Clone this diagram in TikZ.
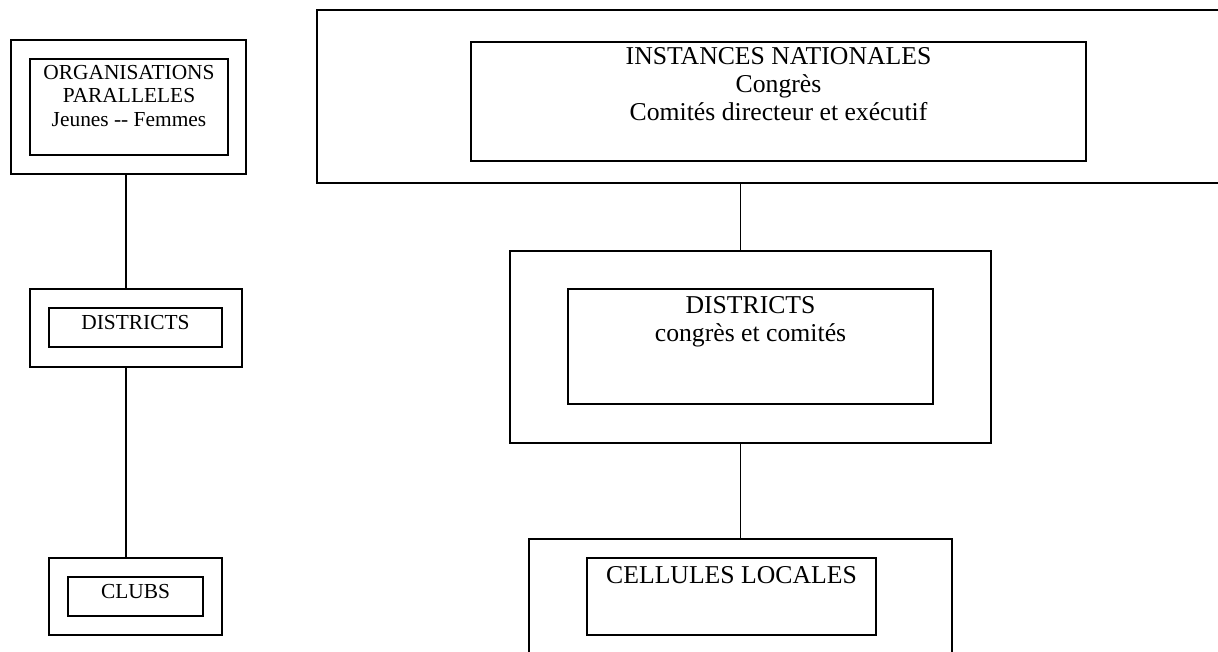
\documentclass[tikz,border=0pt]{standalone}
\usepackage{fontspec}
\setmainfont{Liberation Serif}

\begin{document}
\begin{tikzpicture}[x=1pt,y=-1pt,
  box/.style={draw=black,line width=1.5pt,rectangle,inner sep=0pt,outer sep=0pt},
  petit/.style={font=\fontsize{21.4}{23.5}\selectfont,align=center,anchor=north,inner sep=0pt},
  grand/.style={font=\fontsize{25.7}{28}\selectfont,align=center,anchor=north,inner sep=0pt}]
\useasboundingbox (0,0) rectangle (1218,651);
\clip (0,0) rectangle (1218,651);
\coordinate (axe) at (126,0);
\node[box,minimum width=235,minimum height=134] (orgout) at (128.5,107) {};
\node[box,minimum width=198,minimum height=96] (orgin) at (129,107) {};
\node[petit] (orgtxt) at (129,65) {ORGANISATIONS\\PARALLELES\\Jeunes -{}- Femmes};
\node[box,minimum width=212,minimum height=78] (distlout) at (136,328) {};
\node[box,minimum width=173,minimum height=39] (distlin) at (135.5,327.5) {};
\node[petit] (distltxt) at (135.5,314.8) {DISTRICTS};
\node[box,minimum width=173,minimum height=77] (clubout) at (135.5,596.5) {};
\node[box,minimum width=135,minimum height=39] (clubin) at (135.5,596.5) {};
\node[petit] (clubtxt) at (135.5,583.8) {CLUBS};
\draw[line width=1.5pt] (orgout.south -| axe) -- (distlout.north -| axe);
\draw[line width=1.5pt] (distlout.south -| axe) -- (clubout.north -| axe);
\node[box,minimum width=923,minimum height=173] (instout) at (778.5,96.5) {};
\node[box,minimum width=615,minimum height=119] (instin) at (778.5,101.5) {};
\node[grand] (insttxt) at (778.5,47) {INSTANCES NATIONALES\\Congrès\\Comités directeur et exécutif};
\node[box,minimum width=481,minimum height=192] (distrout) at (750.5,347) {};
\node[box,minimum width=365,minimum height=115] (distrin) at (750.5,346.5) {};
\node[grand] (distrtxt) at (750.5,296) {DISTRICTS\\congrès et comités};
\node[box,minimum width=423,minimum height=161] (cellout) at (740.5,619.5) {};
\node[box,minimum width=289,minimum height=77] (cellin) at (731.5,596.5) {};
\node[grand] (celltxt) at (731.5,566) {CELLULES LOCALES};
\draw[line width=1.5pt] (instout.south -| cellout.north) -- (distrout.north -| cellout.north);
\draw[line width=1.5pt] (distrout.south -| cellout.north) -- (cellout.north);
\end{tikzpicture}
\end{document}
